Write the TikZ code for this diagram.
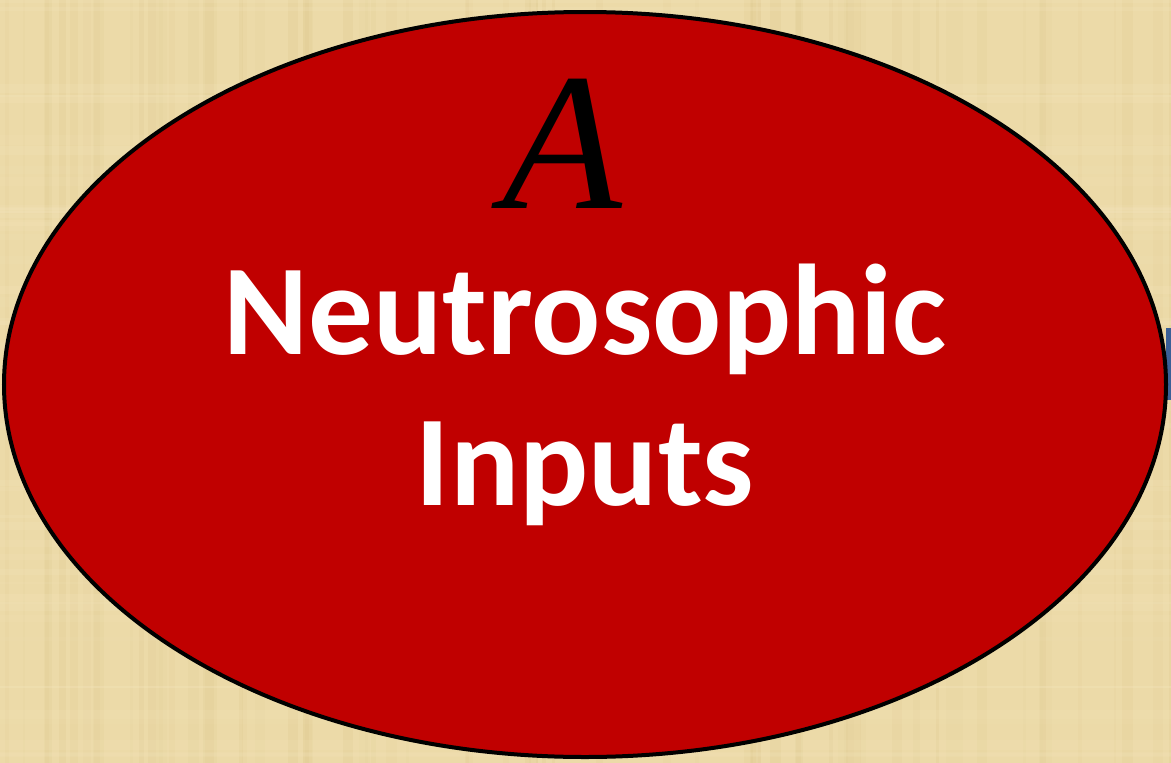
\documentclass[tikz,border=0pt]{standalone}
\usepackage{fontspec}
\usetikzlibrary{shapes.geometric}
\newfontfamily\calib{Carlito}
\newfontfamily\timesit{Liberation Serif}
\definecolor{parch}{RGB}{236,218,168}
\definecolor{parchdark}{RGB}{214,190,128}
\definecolor{parchlight}{RGB}{245,230,190}
\definecolor{ovalred}{RGB}{192,0,0}
\definecolor{sideblue}{RGB}{58,95,150}
\tikzset{
  oval/.style={ellipse, draw=black, line width=4pt, fill=ovalred, inner sep=0pt, outer sep=0pt},
  bigtext/.style={anchor=base, text=white, font=\calib\bfseries\fontsize{129}{129}\selectfont},
  lettertext/.style={anchor=base, text=black, font=\timesit\itshape\fontsize{196}{196}\selectfont}
}
\begin{document}
\begin{tikzpicture}[x=1pt,y=-1pt]
\useasboundingbox (0,0) rectangle (1171,763);
\fill[parch] (0,0) rectangle (1171,763);
\pgfmathsetseed{7}
\foreach \i in {1,...,70}{
  \pgfmathsetmacro{\xx}{rnd*1171}
  \pgfmathsetmacro{\ww}{2+rnd*10}
  \pgfmathsetmacro{\oo}{0.05+rnd*0.12}
  \fill[parchdark, opacity=\oo] (\xx,0) rectangle ++(\ww,763);
}
\foreach \i in {1,...,50}{
  \pgfmathsetmacro{\yy}{rnd*763}
  \pgfmathsetmacro{\hh}{2+rnd*8}
  \pgfmathsetmacro{\oo}{0.08+rnd*0.15}
  \fill[parchlight, opacity=\oo] (0,\yy) rectangle ++(1171,\hh);
}
\fill[sideblue] (1166,328) rectangle (1171,400);
\node[oval, minimum width=1162pt, minimum height=745pt] (ell) at (585,384.5) {};
\node[lettertext] (a) at (562,208) {A};
\node[bigtext] (t1) at (585,354) {Neutrosophic};
\node[bigtext] (t2) at (585,505) {Inputs};
\end{tikzpicture}
\end{document}
